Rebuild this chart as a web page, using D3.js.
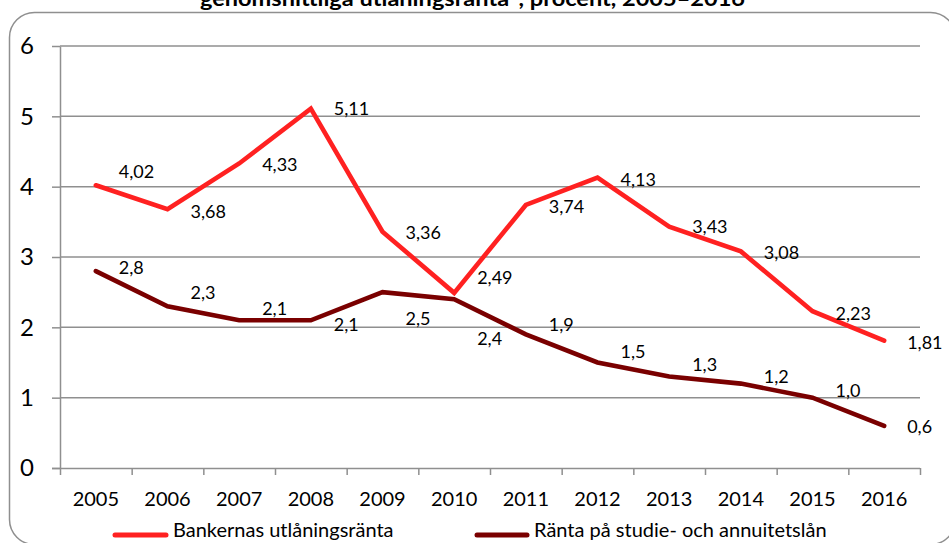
<!DOCTYPE html>
<html lang="sv">
<head>
<meta charset="utf-8">
<script src="https://cdn.jsdelivr.net/npm/d3@7"></script>
<style>
  html, body { margin: 0; padding: 0; background: #fff; }
  svg { display: block; font-family: Lato, "Open Sans", sans-serif; }
</style>
</head>
<body>
<svg id="chart" width="949" height="543"></svg>
<script>
// Years on the x axis
const years = ["2005", "2006", "2007", "2008", "2009", "2010", "2011", "2012", "2013", "2014", "2015", "2016"];
// Banks' average lending rate, percent
const bankRate = [4.02, 3.68, 4.33, 5.11, 3.36, 2.49, 3.74, 4.13, 3.43, 3.08, 2.23, 1.81];
// Rate on study and annuity loans, percent
const studyRate = [2.8, 2.3, 2.1, 2.1, 2.5, 2.4, 1.9, 1.5, 1.3, 1.2, 1.0, 0.6];
// Value axis ticks
const yTicks = [0, 1, 2, 3, 4, 5, 6];

const seriesNames = ["Bankernas utlåningsränta", "Ränta på studie- och annuitetslån"];
const title = "genomsnittliga utlåningsränta*, procent, 2005–2016";

// Vertical nudges of the value labels (px), so they don't sit on the lines
const bankLabelShift = [-14, 2, 1, 0, 1, -15, 2, 1.5, 0, 1, 2, 2];
const studyLabelShift = [-4, -14, -12, 4, 26, 39, -10, -11, -12, -7, -7, 1];

const colors = { bank: "#ff2121", study: "#7a0000", axis: "#8f8f8f", text: "#000" };

const svg = d3.select("#chart");
const plot = { left: 60, right: 920, top: 46, bottom: 468 };

const x = d3.scaleBand().domain(years).range([plot.left, plot.right]);
const xEdge = d3.scaleLinear().domain([0, years.length]).range([plot.left, plot.right]);
const y = d3.scaleLinear().domain([0, 6]).range([plot.bottom, plot.top]);
const cx = d => x(d) + x.bandwidth() / 2;

const sv = d3.formatLocale({ decimal: ",", thousands: " ", grouping: [3], currency: ["", " kr"] });
const fmt2 = sv.format(".2f");
const fmt1 = sv.format(".1f");

// Frame with rounded corners
svg.append("rect")
  .attr("x", 9.5).attr("y", 12.5)
  .attr("width", 946).attr("height", 532)
  .attr("rx", 25).attr("ry", 25)
  .attr("fill", "none")
  .attr("stroke", colors.axis)
  .attr("stroke-width", 1.5);

// Title (runs past the top edge of the frame area)
svg.append("text")
  .attr("x", 200).attr("y", 6)
  .attr("font-weight", "bold")
  .attr("font-size", 20)
  .attr("textLength", 545)
  .attr("lengthAdjust", "spacingAndGlyphs")
  .attr("fill", colors.text)
  .text(title);

// Horizontal gridlines + y axis
const yAxis = svg.append("g")
  .attr("transform", `translate(${plot.left},0)`)
  .call(d3.axisLeft(y).tickValues(yTicks).tickSizeInner(8).tickSizeOuter(0).tickPadding(18).tickFormat(d3.format("d")));
yAxis.select(".domain").attr("stroke", colors.axis).attr("stroke-width", 1.5);
yAxis.selectAll(".tick line").attr("stroke", colors.axis).attr("stroke-width", 1.5);
yAxis.selectAll(".tick text").attr("font-size", 24).attr("fill", colors.text).attr("font-family", "Lato, sans-serif");

svg.append("g").selectAll("line")
  .data(yTicks.filter(t => t > 0))
  .join("line")
  .attr("x1", plot.left).attr("x2", plot.right)
  .attr("y1", d => y(d)).attr("y2", d => y(d))
  .attr("stroke", colors.axis)
  .attr("stroke-width", 1.5);

// X axis: ticks on category boundaries, labels centred in each category
const xAxis = svg.append("g")
  .attr("transform", `translate(0,${plot.bottom})`)
  .call(d3.axisBottom(xEdge).ticks(years.length).tickSizeInner(7).tickSizeOuter(0).tickFormat(""));
xAxis.select(".domain").attr("stroke", colors.axis).attr("stroke-width", 1.5)
  .attr("d", `M${plot.left - 8},0.5H${plot.right}`);
xAxis.selectAll(".tick line").attr("stroke", colors.axis).attr("stroke-width", 1.5);

svg.append("g").selectAll("text")
  .data(years)
  .join("text")
  .attr("x", d => cx(d))
  .attr("y", 506)
  .attr("text-anchor", "middle")
  .attr("font-size", 20)
  .attr("fill", colors.text)
  .text(d => d);

// Lines
const line = vals => d3.line().x((d, i) => cx(years[i])).y(d => y(d))(vals);

svg.append("path")
  .attr("d", line(bankRate))
  .attr("fill", "none")
  .attr("stroke", colors.bank)
  .attr("stroke-width", 4.6)
  .attr("stroke-linecap", "round");

svg.append("path")
  .attr("d", line(studyRate))
  .attr("fill", "none")
  .attr("stroke", colors.study)
  .attr("stroke-width", 4.6)
  .attr("stroke-linecap", "round");

// Value labels
function labels(vals, shift, f) {
  svg.append("g").selectAll("text")
    .data(vals)
    .join("text")
    .attr("x", (d, i) => cx(years[i]) + 23)
    .attr("y", (d, i) => y(d) + shift[i] + 6.5)
    .attr("font-size", 18)
    .attr("fill", colors.text)
    .text(d => f(d));
}
labels(bankRate, bankLabelShift, fmt2);
labels(studyRate, studyLabelShift, fmt1);

// Legend
const legend = [
  { name: seriesNames[0], color: colors.bank, x1: 115, x2: 166, tx: 173 },
  { name: seriesNames[1], color: colors.study, x1: 477, x2: 527, tx: 534 }
];
const lg = svg.append("g");
legend.forEach(l => {
  lg.append("line")
    .attr("x1", l.x1).attr("x2", l.x2)
    .attr("y1", 535).attr("y2", 535)
    .attr("stroke", l.color)
    .attr("stroke-width", 5)
    .attr("stroke-linecap", "round");
  lg.append("text")
    .attr("x", l.tx).attr("y", 537)
    .attr("font-size", 20)
    .attr("fill", colors.text)
    .text(l.name);
});
</script>
</body>
</html>
